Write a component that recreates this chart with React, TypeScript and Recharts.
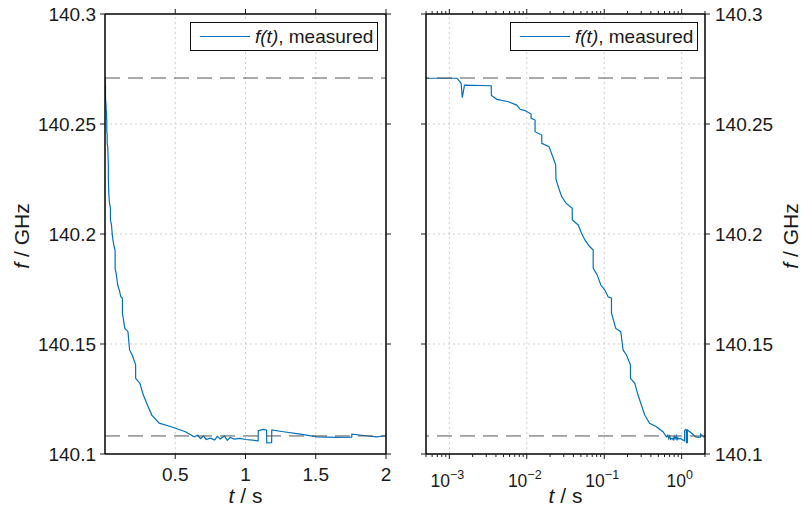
import React from 'react';
import { LineChart, Line, XAxis, YAxis, ReferenceLine, Legend } from 'recharts';

// measured frequency f(t) in GHz vs time t in s
const timeS = [
  0.0005, 0.00126, 0.00142, 0.00147, 0.00157, 0.00348, 0.00349, 0.00411, 0.0058, 0.00743,
  0.0082, 0.0095, 0.01136, 0.01137, 0.0128, 0.01281, 0.0156, 0.01561, 0.0194, 0.022,
  0.0236, 0.0238, 0.0255, 0.0282, 0.0321, 0.0386, 0.0387, 0.0461, 0.051, 0.0562,
  0.0653, 0.072, 0.0721, 0.0811, 0.0904, 0.1018, 0.1123, 0.124, 0.1241, 0.141,
  0.1635, 0.175, 0.1936, 0.218, 0.2181, 0.248, 0.273, 0.302, 0.333, 0.386,
  0.471, 0.573, 0.634, 0.66, 0.68, 0.7, 0.72, 0.75, 0.78, 0.8,
  0.82, 0.85, 0.87, 0.89, 0.92, 0.96, 1.0, 1.05, 1.09, 1.091,
  1.127, 1.15, 1.151, 1.186, 1.187, 1.27, 1.39, 1.51, 1.65, 1.756,
  1.757, 1.86, 1.93, 2.0,
];
const freqGHz = [
  140.2708, 140.2708, 140.2685, 140.262, 140.2677, 140.2674, 140.263, 140.2612, 140.2601, 140.2586,
  140.2567, 140.2561, 140.2545, 140.2526, 140.2518, 140.2465, 140.245, 140.2412, 140.2397, 140.2344,
  140.2314, 140.225, 140.2215, 140.217, 140.214, 140.2117, 140.2064, 140.2041, 140.2003, 140.1973,
  140.1942, 140.1927, 140.1844, 140.1814, 140.1768, 140.1745, 140.1715, 140.1708, 140.164, 140.1571,
  140.1556, 140.1473, 140.145, 140.1405, 140.1344, 140.1321, 140.1268, 140.1223, 140.1177, 140.114,
  140.1124, 140.1101, 140.1078, 140.1085, 140.107, 140.1082, 140.1066, 140.1072, 140.1064, 140.108,
  140.1068, 140.1082, 140.1062, 140.1075, 140.1068, 140.1071, 140.1066, 140.1063, 140.106, 140.1106,
  140.1112, 140.1108, 140.1051, 140.1052, 140.1109, 140.1101, 140.109, 140.1078, 140.1076, 140.1077,
  140.109, 140.1083, 140.1078, 140.1083,
];

const startLevel = 140.2709;
const endLevel = 140.1082;

const freqTicks = [140.1, 140.15, 140.2, 140.25, 140.3];
const freqTickLabels = ['140.1', '140.15', '140.2', '140.25', '140.3'];
const freqGrid = [140.15, 140.2, 140.25];

const linTicks = [0.5, 1, 1.5, 2];
const linTickLabels = ['0.5', '1', '1.5', '2'];
const linGrid = [0.5, 1, 1.5];

const logMajor = [0.001, 0.01, 0.1, 1];
const logMajorExp = ['\u22123', '\u22122', '\u22121', '0'];
const logMinor = [
  0.0005, 0.0006, 0.0007, 0.0008, 0.0009,
  0.002, 0.003, 0.004, 0.005, 0.006, 0.007, 0.008, 0.009,
  0.02, 0.03, 0.04, 0.05, 0.06, 0.07, 0.08, 0.09,
  0.2, 0.3, 0.4, 0.5, 0.6, 0.7, 0.8, 0.9, 2,
];
const logTicks = [...logMinor, ...logMajor].sort((a, b) => a - b);

const data = timeS.map((t, i) => ({ t, f: freqGHz[i] }));

const BLUE = '#0072BD';
const INK = '#1a1a1a';
const FS = 19;
const DASH = '#555';

const isMajor = (v: number) => logMajor.some((m) => Math.abs(m - v) < m * 1e-6);

const LeftYTick = (p: any) => {
  const { x, y, payload, showLabel } = p;
  const i = freqTicks.indexOf(payload.value);
  return (
    <g>
      <line x1={x} x2={x - 5} y1={y} y2={y} stroke={INK} strokeWidth={1} />
      {showLabel && (
        <text x={x - 9} y={y} textAnchor="end" dominantBaseline="central" fontSize={FS} fill={INK}>
          {freqTickLabels[i]}
        </text>
      )}
    </g>
  );
};

const RightYTick = (p: any) => {
  const { x, y, payload, showLabel } = p;
  const i = freqTicks.indexOf(payload.value);
  return (
    <g>
      <line x1={x} x2={x + 5} y1={y} y2={y} stroke={INK} strokeWidth={1} />
      {showLabel && (
        <text x={x + 10} y={y} textAnchor="start" dominantBaseline="central" fontSize={FS} fill={INK}>
          {freqTickLabels[i]}
        </text>
      )}
    </g>
  );
};

const LinBottomTick = (p: any) => {
  const { x, y, payload } = p;
  const i = linTicks.indexOf(payload.value);
  return (
    <g>
      <line x1={x} x2={x} y1={y} y2={y + 5} stroke={INK} strokeWidth={1} />
      <text x={x} y={y + 27} textAnchor="middle" fontSize={FS} fill={INK}>
        {linTickLabels[i]}
      </text>
    </g>
  );
};

const TopTick = (p: any) => {
  const { x, y, payload, log } = p;
  const len = log ? (isMajor(payload.value) ? 5 : 3) : 5;
  return <line x1={x} x2={x} y1={y} y2={y - len} stroke={INK} strokeWidth={1} />;
};

const LogBottomTick = (p: any) => {
  const { x, y, payload } = p;
  const major = isMajor(payload.value);
  const i = logMajor.findIndex((m) => Math.abs(m - payload.value) < m * 1e-6);
  return (
    <g>
      <line x1={x} x2={x} y1={y} y2={y + (major ? 5 : 3)} stroke={INK} strokeWidth={1} />
      {major && (
        <text x={x - 2} y={y + 33} textAnchor="middle" fontSize={17.5} fill={INK}>
          <tspan>10</tspan>
          <tspan dy={-8} fontSize={12.5}>{logMajorExp[i]}</tspan>
        </text>
      )}
    </g>
  );
};

const XTitle = (p: any) => {
  const vb = p.viewBox || {};
  const cx = (vb.x || 0) + (vb.width || 0) / 2;
  return (
    <text x={cx} y={503} textAnchor="middle" fontSize={21} fill={INK}>
      <tspan fontStyle="italic">t</tspan>
      <tspan> / s</tspan>
    </text>
  );
};

const YTitle = (p: any) => {
  const { cx } = p;
  const cy = 236;
  return (
    <text
      x={cx}
      y={cy}
      textAnchor="middle"
      dominantBaseline="central"
      fontSize={21}
      fill={INK}
      transform={`rotate(-90 ${cx} ${cy})`}
    >
      <tspan fontStyle="italic">f</tspan>
      <tspan> / GHz</tspan>
    </text>
  );
};

const LegendBox = () => (
  <div
    style={{
      border: '1px solid #111',
      background: '#fff',
      width: 186,
      height: 27,
      display: 'flex',
      alignItems: 'center',
      fontFamily: 'Liberation Sans, Arial, sans-serif',
    }}
  >
    <svg width={60} height={27} style={{ display: 'block' }}>
      <line x1={9} x2={59} y1={13.5} y2={13.5} stroke={BLUE} strokeWidth={1.2} />
    </svg>
    <span style={{ fontSize: FS, color: INK, marginLeft: 4, whiteSpace: 'nowrap', lineHeight: '27px' }}>
      <i>f(t)</i>, measured
    </span>
  </div>
);

const axisLineStyle = { stroke: '#000', strokeWidth: 1.5 };
const gridStroke = '#cfcfcf';

export default function App() {
  return (
    <div
      style={{
        position: 'absolute',
        left: 0,
        top: 0,
        width: 801,
        height: 508,
        background: '#fff',
        fontFamily: 'Liberation Sans, Arial, sans-serif',
      }}
    >
      {/* Left panel: linear time axis */}
      <div style={{ position: 'absolute', left: 0, top: 0 }}>
        <LineChart width={400} height={508} data={data} margin={{ top: 0, right: 0, bottom: 0, left: 0 }}>
          <XAxis
            xAxisId="b"
            dataKey="t"
            type="number"
            domain={[0, 2]}
            allowDataOverflow
            ticks={linTicks}
            interval={0}
            tickSize={0}
            tickMargin={0}
            tickLine={false}
            tick={<LinBottomTick />}
            axisLine={axisLineStyle}
            height={54}
            label={<XTitle />}
          />
          <XAxis
            xAxisId="tp"
            dataKey="t"
            orientation="top"
            type="number"
            domain={[0, 2]}
            allowDataOverflow
            ticks={linTicks}
            interval={0}
            tickSize={0}
            tickMargin={0}
            tickLine={false}
            tick={<TopTick />}
            axisLine={axisLineStyle}
            height={14}
          />
          <YAxis
            yAxisId="l"
            dataKey="f"
            type="number"
            domain={[140.1, 140.3]}
            allowDataOverflow
            ticks={freqTicks}
            interval={0}
            tickSize={0}
            tickMargin={0}
            tickLine={false}
            tick={<LeftYTick showLabel />}
            axisLine={axisLineStyle}
            width={105}
            label={<YTitle cx={21} />}
          />
          <YAxis
            yAxisId="r"
            dataKey="f"
            orientation="right"
            type="number"
            domain={[140.1, 140.3]}
            allowDataOverflow
            ticks={freqTicks}
            interval={0}
            tickSize={0}
            tickMargin={0}
            tickLine={false}
            tick={<RightYTick showLabel={false} />}
            axisLine={axisLineStyle}
            width={14}
          />
          {linGrid.map((v) => (
            <ReferenceLine key={'vx' + v} xAxisId="b" yAxisId="l" x={v} stroke={gridStroke} strokeDasharray="2 3" />
          ))}
          {freqGrid.map((v) => (
            <ReferenceLine key={'hy' + v} xAxisId="b" yAxisId="l" y={v} stroke={gridStroke} strokeDasharray="2 3" />
          ))}
          <Line
            xAxisId="b"
            yAxisId="l"
            dataKey="f"
            type="linear"
            stroke={BLUE}
            strokeWidth={1.2}
            dot={false}
            isAnimationActive={false}
          />
          <ReferenceLine xAxisId="b" yAxisId="l" y={startLevel} stroke={DASH} strokeDasharray="15 8" />
          <ReferenceLine xAxisId="b" yAxisId="l" y={endLevel} stroke={DASH} strokeDasharray="15 8" />
          <Legend
            layout="vertical"
            align="center"
            verticalAlign="middle"
            content={<LegendBox />}
            wrapperStyle={{ left: 190, top: 22, width: 188, height: 29 }}
          />
        </LineChart>
      </div>

      {/* Right panel: logarithmic time axis */}
      <div style={{ position: 'absolute', left: 400, top: 0 }}>
        <LineChart width={401} height={508} data={data} margin={{ top: 0, right: 0, bottom: 0, left: 0 }}>
          <XAxis
            xAxisId="b"
            dataKey="t"
            type="number"
            scale="log"
            domain={[0.0005, 2]}
            allowDataOverflow
            ticks={logTicks}
            interval={0}
            tickSize={0}
            tickMargin={0}
            tickLine={false}
            tick={<LogBottomTick />}
            axisLine={axisLineStyle}
            height={54}
            label={<XTitle />}
          />
          <XAxis
            xAxisId="tp"
            dataKey="t"
            orientation="top"
            type="number"
            scale="log"
            domain={[0.0005, 2]}
            allowDataOverflow
            ticks={logTicks}
            interval={0}
            tickSize={0}
            tickMargin={0}
            tickLine={false}
            tick={<TopTick log />}
            axisLine={axisLineStyle}
            height={14}
          />
          <YAxis
            yAxisId="l"
            dataKey="f"
            type="number"
            domain={[140.1, 140.3]}
            allowDataOverflow
            ticks={freqTicks}
            interval={0}
            tickSize={0}
            tickMargin={0}
            tickLine={false}
            tick={<LeftYTick showLabel={false} />}
            axisLine={axisLineStyle}
            width={26}
          />
          <YAxis
            yAxisId="r"
            dataKey="f"
            orientation="right"
            type="number"
            domain={[140.1, 140.3]}
            allowDataOverflow
            ticks={freqTicks}
            interval={0}
            tickSize={0}
            tickMargin={0}
            tickLine={false}
            tick={<RightYTick showLabel />}
            axisLine={axisLineStyle}
            width={96}
            label={<YTitle cx={390} />}
          />
          {logMajor.map((v) => (
            <ReferenceLine key={'vx' + v} xAxisId="b" yAxisId="r" x={v} stroke={gridStroke} strokeDasharray="2 3" />
          ))}
          {freqGrid.map((v) => (
            <ReferenceLine key={'hy' + v} xAxisId="b" yAxisId="r" y={v} stroke={gridStroke} strokeDasharray="2 3" />
          ))}
          <Line
            xAxisId="b"
            yAxisId="r"
            dataKey="f"
            type="linear"
            stroke={BLUE}
            strokeWidth={1.2}
            dot={false}
            isAnimationActive={false}
          />
          <ReferenceLine xAxisId="b" yAxisId="r" y={startLevel} stroke={DASH} strokeDasharray="15 8" />
          <ReferenceLine xAxisId="b" yAxisId="r" y={endLevel} stroke={DASH} strokeDasharray="15 8" />
          <Legend
            layout="vertical"
            align="center"
            verticalAlign="middle"
            content={<LegendBox />}
            wrapperStyle={{ left: 110, top: 22, width: 188, height: 29 }}
          />
        </LineChart>
      </div>
    </div>
  );
}
